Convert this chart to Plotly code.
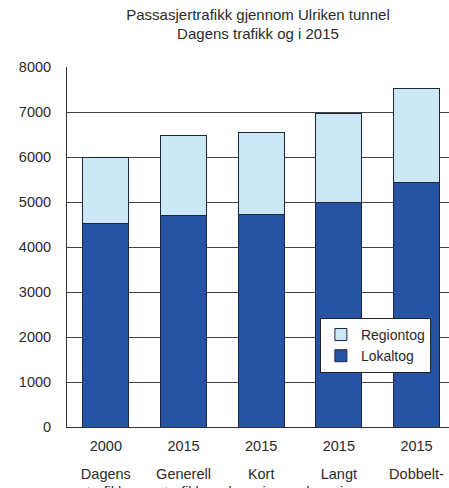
import plotly.graph_objects as go

# Passenger traffic through the Ulriken tunnel
years = ["2000", "2015", "2015", "2015", "2015"]
scenarios = ["Dagens<br>trafikk", "Generell<br>trafikk", "Kort<br>kryssings-<br>spor",
             "Langt<br>kryssings-<br>spor", "Dobbelt-<br>spor"]
lokaltog = [4520, 4690, 4730, 4980, 5430]
regiontog = [1480, 1790, 1820, 1990, 2090]

pos = list(range(len(years)))

FONT = "Liberation Sans, Arial, sans-serif"
TXT = "#2a2a2a"
TICK = 14.5

fig = go.Figure()
fig.add_trace(go.Bar(
    x=pos, y=lokaltog, name="Lokaltog", width=0.59,
    marker=dict(color="#2753a3", line=dict(color="#1b2740", width=1)),
))
fig.add_trace(go.Bar(
    x=pos, y=regiontog, name="Regiontog", width=0.59,
    marker=dict(color="#cbe7f3", line=dict(color="#1b2740", width=1)),
))

xr = [-0.5, 4.418]

fig.update_layout(
    width=449, height=488,
    barmode="stack",
    paper_bgcolor="white", plot_bgcolor="white",
    margin=dict(l=67, r=0, t=67, b=61, autoexpand=False),
    font=dict(family=FONT, size=TICK, color=TXT),
    title=dict(
        text="Passasjertrafikk gjennom Ulriken tunnel<br>Dagens trafikk og i 2015",
        x=0.5, xref="paper", xanchor="center",
        y=0.96, yref="container", yanchor="top",
        font=dict(family=FONT, size=15, color=TXT),
        automargin=False,
    ),
    showlegend=True,
    legend=dict(
        x=0.662, y=0.303, xanchor="left", yanchor="top",
        traceorder="reversed",
        bgcolor="white", bordercolor="#222", borderwidth=1,
        font=dict(family=FONT, size=14, color=TXT),
        itemwidth=30, tracegroupgap=0,
    ),
    xaxis=dict(
        range=xr, tickmode="array", tickvals=pos, ticktext=years,
        showgrid=False, zeroline=False, automargin=False,
        showline=True, linecolor="#333", linewidth=1,
        ticks="", ticklabelstandoff=6, tickangle=0,
        tickfont=dict(family=FONT, size=TICK, color=TXT),
    ),
    xaxis2=dict(
        range=xr, overlaying="x", anchor="y", side="bottom",
        tickmode="array", tickvals=pos, ticktext=scenarios,
        showgrid=False, zeroline=False, showline=False, automargin=False,
        ticks="", ticklabelstandoff=36, tickangle=0,
        tickfont=dict(family=FONT, size=TICK, color=TXT),
    ),
    yaxis=dict(
        range=[0, 8000], tickmode="linear", tick0=0, dtick=1000,
        showgrid=True, gridcolor="#444", gridwidth=1,
        zeroline=False, automargin=False,
        showline=True, linecolor="#333", linewidth=1,
        ticks="", ticklabelstandoff=12,
        tickfont=dict(family=FONT, size=TICK, color=TXT),
    ),
)

# invisible trace so the second category axis is drawn
fig.add_trace(go.Scatter(x=pos, y=[0] * len(pos), xaxis="x2", mode="markers",
                         marker=dict(opacity=0), showlegend=False, hoverinfo="skip"))

fig.write_html("out.html")
